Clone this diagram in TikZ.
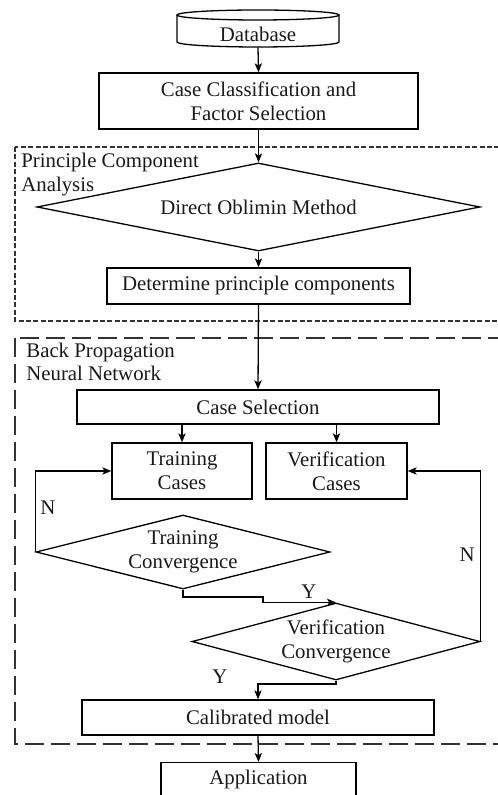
\documentclass[tikz,border=0pt]{standalone}
\usepackage{fontspec}
\setmainfont{Liberation Serif}
\usetikzlibrary{shapes.geometric,arrows.meta,calc}

\begin{document}
\begin{tikzpicture}[x=0.5pt,y=-0.5pt,
  every node/.style={font=\fontsize{10.4pt}{11.8pt}\selectfont, text=black!90, inner sep=0pt},
  box/.style={draw, rectangle, align=center, line width=0.65pt},
  dia/.style={draw, diamond, align=center, line width=0.65pt},
  arr/.style={-{Stealth[length=4.5pt,width=3.6pt,inset=1.1pt]}, line width=0.65pt},
  link/.style={line width=0.65pt},
  frameA/.style={draw=black!80, line width=0.65pt, dash pattern=on 2.5pt off 1.2pt},
  frameB/.style={draw=black!80, line width=0.65pt, dash pattern=on 9.5pt off 3.5pt},
  lbl/.style={align=left, anchor=west}
]
\useasboundingbox (0,0) rectangle (497,795);

% group frames
\draw[frameA] (15,147) rectangle (505,321);
\draw[frameB] (15,338) rectangle (505,744);
\node[lbl] (pcal) at (21,174.5) {Principle Component\\Analysis};
\node[lbl] (bpl) at (26,362) {Back Propagation\\Neural Network};

% database cylinder
\node (db) at (258,34) [minimum width=81pt, minimum height=13pt] {Database};
\draw[link] (177,15) -- (177,42)
  arc[start angle=180,end angle=360,x radius=40.5pt,y radius=2.5pt] -- (339,15);
\draw[link] (258,15) ellipse[x radius=40.5pt,y radius=2.5pt];

% process steps
\node[box, minimum width=159.5pt, minimum height=28pt] (ccfs) at (258.5,101) {Case Classification and\\Factor Selection};
\node[dia, aspect=5, minimum width=221.5pt, minimum height=44pt] (pca) at (258.5,207) {Direct Oblimin Method};
\node[box, minimum width=151.5pt, minimum height=18pt] (dpc) at (258.5,286) {Determine principle components};
\node[box, minimum width=181pt, minimum height=17pt] (cs) at (258,407) {Case Selection};
\node[box, minimum width=70pt, minimum height=28pt] (tc) at (182,471) {Training\\Cases};
\node[box, minimum width=70.5pt, minimum height=28pt] (vc) at (336.5,471) {Verification\\Cases};
\node[dia, aspect=3.97, minimum width=147pt, minimum height=37pt] (tconv) at (183,552) {Training\\Convergence};
\node[dia, aspect=3.74, minimum width=144pt, minimum height=38.5pt] (vconv) at (336,641.5) {Verification\\Convergence};
\node[box, minimum width=176pt, minimum height=17.5pt] (cal) at (258,717.5) {Calibrated model};
\node[box, minimum width=97.5pt, minimum height=22pt, text depth=7pt, anchor=north] (app) at (258.5,762) {Application};

% main flow
\draw[arr] (db.south) -- (ccfs.north);
\draw[arr] (ccfs.south) -- (pca.north);
\draw[arr] (pca.south) -- (dpc.north);
\draw[arr] (dpc.south) -- (cs.north);
\draw[arr] (cs.south -| tc.north) -- (tc.north);
\draw[arr] (cs.south -| vc.north) -- (vc.north);
\draw[arr] (cal.south) -- (app.north);

% decision branches
\draw[arr] (tconv.west) |- (tc.west);
\draw[arr] (vconv.east) |- (vc.east);
\coordinate (ystep) at (263,597);
\draw[arr] (tconv.south) |- (ystep) |- (vconv.north);
\coordinate (ybend) at (258,684);
\draw[arr] (vconv.south) |- (ybend) -- (cal.north);

\node (nl) at (48,508) {N};
\node (nr) at (467,555) {N};
\node (yt) at (309,592) {Y};
\node (yv) at (220,677) {Y};
\end{tikzpicture}
\end{document}
